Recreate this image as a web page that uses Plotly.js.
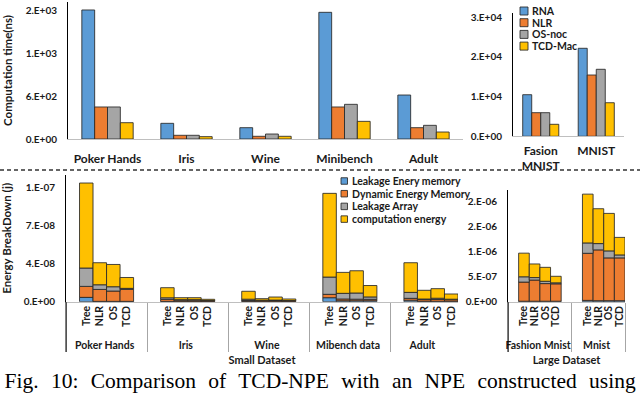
<!DOCTYPE html>
<html>
<head>
<meta charset="utf-8">
<script src="https://cdn.plot.ly/plotly-3.0.1.min.js"></script>
<style>
html, body { margin: 0; padding: 0; background: #fff; }
#chart { width: 640px; height: 394px; }
</style>
</head>
<body>
<div id="chart"></div>
<script>
// ---- top row : computation time (ns) ----
const smallSets = ['Poker Hands', 'Iris', 'Wine', 'Minibench', 'Adult'];
const largeSets = ['Fasion<br>MNIST', 'MNIST'];
const timeSeries = ['RNA', 'NLR', 'OS-noc', 'TCD-Mac'];

const rnaSmall = [1813, 220, 159, 1780, 618];
const nlrSmall = [450, 52, 38, 450, 159];
const osSmall = [450, 52, 70, 487, 192];
const tcdSmall = [229, 33, 38, 248, 98];

const rnaLarge = [10480, 22170];
const nlrLarge = [5950, 15440];
const osLarge = [5950, 16880];
const tcdLarge = [3020, 8460];

const timeTicksSmall = [0, 600, 1200, 1800];
const timeLabelsSmall = ['0.E+00', '6.E+02', '1.E+03', '2.E+03'];
const timeTicksLarge = [0, 10000, 20000, 30000];
const timeLabelsLarge = ['0.E+00', '1.E+04', '2.E+04', '3.E+04'];

// ---- bottom row : energy breakdown (j) ----
const designs = ['Tree', 'NLR', 'OS', 'TCD'];
const energySmallSets = ['Poker Hands', 'Iris', 'Wine', 'Mibench data', 'Adult'];
const energyLargeSets = ['Fashion Mnist', 'Mnist'];
const energySeries = ['Leakage Enery memory', 'Dynamic Energy Memory', 'Leakage Array', 'computation energy'];

// one value per bar : group by group, Tree / NLR / OS / TCD
const leakMemSmall = [4.0e-9, 0.3e-9, 0.3e-9, 0.3e-9, 0.3e-9, 0.2e-9, 0.2e-9, 0.1e-9, 0.3e-9, 0.2e-9, 0.2e-9, 0.1e-9, 3.7e-9, 0.9e-9, 0.9e-9, 0.9e-9, 1.4e-9, 0.4e-9, 0.4e-9, 0.4e-9];
const dynMemSmall = [10.1e-9, 11.0e-9, 9.5e-9, 11.0e-9, 1.8e-9, 1.2e-9, 1.2e-9, 0.8e-9, 0.8e-9, 0.9e-9, 0.9e-9, 0.8e-9, 3.1e-9, 1.6e-9, 1.4e-9, 1.3e-9, 1.7e-9, 1.5e-9, 1.6e-9, 1.4e-9];
const leakArrSmall = [16.9e-9, 4.3e-9, 4.0e-9, 1.0e-9, 1.5e-9, 0.5e-9, 0.5e-9, 0.2e-9, 1.2e-9, 0.3e-9, 0.4e-9, 0.2e-9, 15.9e-9, 5.2e-9, 5.7e-9, 2.2e-9, 5.5e-9, 0.6e-9, 1.2e-9, 0.5e-9];
const compSmall = [78.3e-9, 20.3e-9, 20.5e-9, 10.0e-9, 9.3e-9, 1.8e-9, 1.8e-9, 1.1e-9, 7.3e-9, 1.4e-9, 2.8e-9, 1.4e-9, 77.1e-9, 19.3e-9, 20.5e-9, 10.5e-9, 27.3e-9, 8.0e-9, 8.8e-9, 4.8e-9];

const leakMemLarge = [0.010e-6, 0.010e-6, 0.010e-6, 0.010e-6, 0.026e-6, 0.020e-6, 0.020e-6, 0.020e-6];
const dynMemLarge = [0.380e-6, 0.420e-6, 0.350e-6, 0.345e-6, 0.936e-6, 1.010e-6, 0.851e-6, 0.851e-6];
const leakArrLarge = [0.105e-6, 0.050e-6, 0.046e-6, 0.020e-6, 0.206e-6, 0.125e-6, 0.139e-6, 0.059e-6];
const compLarge = [0.470e-6, 0.270e-6, 0.277e-6, 0.130e-6, 0.970e-6, 0.693e-6, 0.745e-6, 0.348e-6];

const energyTicksSmall = [0, 3.5e-8, 7e-8, 1.05e-7];
const energyLabelsSmall = ['0.E+00', '4.E-08', '7.E-08', '1.E-07'];
const energyTicksLarge = [0, 5e-7, 1e-6, 1.5e-6, 2e-6];
const energyLabelsLarge = ['0.E+00', '5.E-07', '1.E-06', '2.E-06', '2.E-06'];

const caption = 'Fig. 10: Comparison of TCD-NPE with an NPE constructed using';

// ---- style ----
const colors = ['#5b9bd5', '#ed7d31', '#a5a5a5', '#ffc000'];
const outline = 'rgba(40,40,40,0.85)';
const FONT = 'Lato, "Open Sans", sans-serif';
const INK = '#1a1a1a';
const W = 640, H = 394;
const px = v => v / W;
const py = v => 1 - v / H;

// multicategory x with an empty slot before each group (and after, except the last)
function padded(groups, values) {
    const g = [], s = [], v = [];
    groups.forEach((name, gi) => {
        g.push(name); s.push(' '); v.push(null);
        designs.forEach((d, di) => { g.push(name); s.push(d); v.push(values[gi * designs.length + di]); });
        if (gi < groups.length - 1) { g.push(name); s.push('  '); v.push(null); }
    });
    return { x: [g, s], v };
}

function stackTraces(groups, layers, xa, ya) {
    let base = layers[0].map(() => 0);
    return layers.map((vals, k) => {
        const p = padded(groups, vals);
        const b = padded(groups, base);
        base = base.map((acc, i) => acc + vals[i]);
        return {
            type: 'bar', x: p.x, y: p.v, base: b.v, name: energySeries[k],
            xaxis: xa, yaxis: ya, offsetgroup: 'stack', width: 1,
            marker: { color: colors[k], line: { color: outline, width: 1 } },
            showlegend: false, hoverinfo: 'skip'
        };
    });
}

const data = [];
[rnaSmall, nlrSmall, osSmall, tcdSmall].forEach((vals, k) => data.push({
    type: 'bar', x: smallSets, y: vals, name: timeSeries[k], xaxis: 'x', yaxis: 'y',
    marker: { color: colors[k], line: { color: outline, width: 1 } }, showlegend: false
}));
[rnaLarge, nlrLarge, osLarge, tcdLarge].forEach((vals, k) => data.push({
    type: 'bar', x: largeSets, y: vals, name: timeSeries[k], xaxis: 'x2', yaxis: 'y2',
    marker: { color: colors[k], line: { color: outline, width: 1 } }, showlegend: false
}));
data.push(...stackTraces(energySmallSets, [leakMemSmall, dynMemSmall, leakArrSmall, compSmall], 'x3', 'y3'));
data.push(...stackTraces(energyLargeSets, [leakMemLarge, dynMemLarge, leakArrLarge, compLarge], 'x4', 'y4'));

const tickFont = size => ({ family: FONT, size: size, color: INK, weight: 'bold' });

function yAxis(domain, anchor, range, vals, text, title) {
    return {
        domain: domain, anchor: anchor, range: range, fixedrange: true,
        showline: true, linecolor: '#000', linewidth: 1,
        showgrid: false, zeroline: false, ticks: '',
        tickvals: vals, ticktext: text, tickfont: tickFont(10), ticklabelstandoff: 8,
        title: title ? { text: title, font: tickFont(11.5), standoff: 10 } : { text: '' }
    };
}

function catAxis(domain, anchor, extra) {
    return Object.assign({
        domain: domain, anchor: anchor, fixedrange: true,
        showline: true, linecolor: '#bfbfbf', linewidth: 1,
        showgrid: false, zeroline: false, ticks: '', tickfont: tickFont(12)
    }, extra);
}

function energyAxis(domain, anchor, title) {
    return catAxis(domain, anchor, {
        type: 'multicategory', tickangle: -90, tickfont: tickFont(10.5),
        tickmode: 'linear', tick0: 0, dtick: 1, ticklabelstandoff: -1,
        showdividers: true, dividercolor: '#a6a6a6', dividerwidth: 1,
        title: { text: title, font: tickFont(11), standoff: 6 }
    });
}

// hand-made compact legends
const shapes = [];
const annotations = [];
function legend(names, left, top, step, box, size) {
    names.forEach((n, i) => {
        const cy = top + i * step;
        shapes.push({
            type: 'rect', xref: 'paper', yref: 'paper',
            x0: px(left), x1: px(left + box), y0: py(cy + box / 2), y1: py(cy - box / 2),
            fillcolor: colors[i], line: { color: outline, width: 1 }
        });
        annotations.push({
            xref: 'paper', yref: 'paper', x: px(left + box + 2), y: py(cy),
            xanchor: 'left', yanchor: 'middle', showarrow: false,
            text: n, font: tickFont(size)
        });
    });
}
legend(timeSeries, 520, 11, 11.7, 8, 10.5);
legend(energySeries, 341, 181, 12.7, 6.5, 10.5);

// dashed separator between the two rows
shapes.push({ type: 'line', xref: 'paper', yref: 'paper', x0: 0, x1: 1, y0: py(170), y1: py(170),
    line: { color: '#333', width: 1.5, dash: '4px,3px' } });
// value axes of the lower charts run through the label band
shapes.push({ type: 'line', xref: 'paper', yref: 'paper', x0: px(66), x1: px(66), y0: py(302), y1: py(352),
    line: { color: '#000', width: 1 } });
shapes.push({ type: 'line', xref: 'paper', yref: 'paper', x0: px(508), x1: px(508), y0: py(302), y1: py(352),
    line: { color: '#000', width: 1 } });

annotations.push({
    xref: 'paper', yref: 'paper', x: 0.5, y: py(380.5), xanchor: 'center', yanchor: 'middle',
    showarrow: false, text: caption,
    font: { family: '"Liberation Serif", "Times New Roman", serif', size: 21.5, color: '#000' }
});

const layout = {
    width: W, height: H, autosize: false,
    margin: { l: 0, r: 0, t: 0, b: 0 },
    paper_bgcolor: '#fff', plot_bgcolor: '#fff',
    font: { family: FONT, color: INK },
    barmode: 'group', bargap: 0.35, bargroupgap: 0,
    showlegend: false,
    xaxis: catAxis([px(68), px(463)], 'y', { ticklabelstandoff: 9 }),
    yaxis: yAxis([py(139), py(2)], 'x', [0, 1925], timeTicksSmall, timeLabelsSmall, 'Computation time(ns)'),
    xaxis2: catAxis([px(513), px(624)], 'y2', { ticklabelstandoff: 3 }),
    yaxis2: yAxis([py(136.3), py(13)], 'x2', [0, 31060], timeTicksLarge, timeLabelsLarge, ''),
    xaxis3: energyAxis([px(66), px(458)], 'y3', 'Small Dataset'),
    yaxis3: yAxis([py(301.7), py(175)], 'x3', [0, 1.167e-7], energyTicksSmall, energyLabelsSmall, 'Energy BreakDown (j)'),
    xaxis4: energyAxis([px(508), px(625)], 'y4', 'Large Dataset'),
    yaxis4: yAxis([py(301.7), py(190)], 'x4', [0, 2.22e-6], energyTicksLarge, energyLabelsLarge, ''),
    shapes: shapes,
    annotations: annotations
};

Plotly.newPlot('chart', data, layout, { staticPlot: true, displayModeBar: false }).then(gd => {
    // the printed caption is justified across the full width
    gd.querySelectorAll('.annotation-text').forEach(t => {
        if (t.textContent === caption) t.style.wordSpacing = '7px';
    });
});
</script>
</body>
</html>
